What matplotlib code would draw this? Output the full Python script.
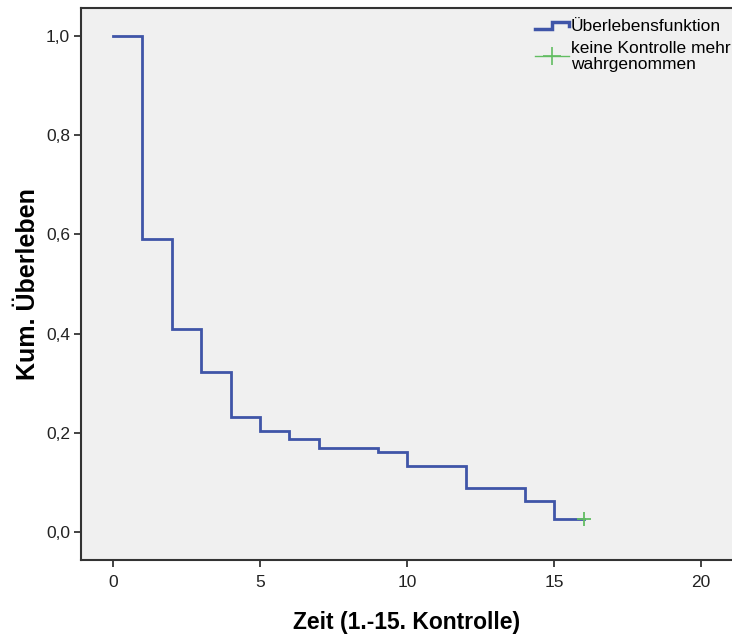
import matplotlib
matplotlib.use("Agg")
import matplotlib.pyplot as plt
from matplotlib.lines import Line2D
from matplotlib.legend_handler import HandlerBase

plt.rcParams['font.family'] = ['Liberation Sans', 'DejaVu Sans']

# Kaplan-Meier estimate: event times and survival after each step
times = [0, 1, 2, 3, 4, 5, 6, 7, 9, 10, 12, 14, 15]
survival = [1.0, 0.591, 0.41, 0.322, 0.232, 0.204, 0.187, 0.169, 0.161,
            0.134, 0.089, 0.062, 0.026]
last_time = 16
censored_times = [16]
censored_surv = [0.026]

x_ticks = [0, 5, 10, 15, 20]
y_ticks = [0.0, 0.2, 0.4, 0.6, 0.8, 1.0]
y_tick_labels = ['0,0', '0,2', '0,4', '0,6', '0,8', '1,0']

line_color = '#3F55A8'
cens_color = '#62BD62'

fig = plt.figure(figsize=(7.32, 6.37), dpi=100)
ax = fig.add_axes([0.1107, 0.1209, 0.8893, 0.8665])
ax.set_facecolor('#F0F0F0')

xs = times + [last_time]
ys = survival + [survival[-1]]
ax.step(xs, ys, where='post', color=line_color, lw=2.0, solid_joinstyle='miter')
ax.plot(censored_times, censored_surv, ls='none', marker='+', ms=10,
        mew=1.3, color=cens_color)

ax.set_xlim(-1.09, 21.05)
ax.set_ylim(-0.056, 1.056)
ax.set_xticks(x_ticks)
ax.set_yticks(y_ticks)
ax.set_yticklabels(y_tick_labels)
ax.tick_params(axis='both', direction='out', length=5, width=1.2,
               labelsize=12.5, colors='#222222')
ax.tick_params(axis='x', pad=6)
ax.tick_params(axis='y', pad=3)

for side in ('left', 'bottom', 'top'):
    ax.spines[side].set_linewidth(1.5)
    ax.spines[side].set_color('#333333')
ax.spines['right'].set_visible(False)

ax.set_xlabel('Zeit (1.-15. Kontrolle)', fontsize=16.5, fontweight='bold', labelpad=15)
ax.set_ylabel('Kum. Überleben', fontsize=18, fontweight='bold', labelpad=4)


class StepHandler(HandlerBase):
    def create_artists(self, legend, orig_handle, xdescent, ydescent,
                       width, height, fontsize, trans):
        w, h = width, height
        px = [-xdescent, -xdescent + 0.5 * w, -xdescent + 0.5 * w,
              -xdescent + w, -xdescent + w]
        py = [0.15 * h, 0.15 * h, 0.75 * h, 0.75 * h, 0.45 * h]
        ln = Line2D(px, py, color=orig_handle.get_color(), lw=2.5,
                    solid_joinstyle='miter', transform=trans)
        return [ln]


step_handle = Line2D([], [], color=line_color)
cens_handle = Line2D([], [], color=cens_color, lw=1.0, marker='+', ms=13, mew=1.2)
leg = ax.legend([step_handle, cens_handle],
                ['Überlebensfunktion', 'keine Kontrolle mehr\nwahrgenommen'],
                handler_map={step_handle: StepHandler()},
                loc='upper right', bbox_to_anchor=(1.014, 0.999),
                frameon=False, fontsize=12.5, handlelength=2.0,
                handletextpad=0.1, labelspacing=0.4, borderaxespad=0.2)
for t in leg.get_texts():
    t.set_linespacing(1.05)

fig.savefig('out.png', dpi=100, facecolor='white')
